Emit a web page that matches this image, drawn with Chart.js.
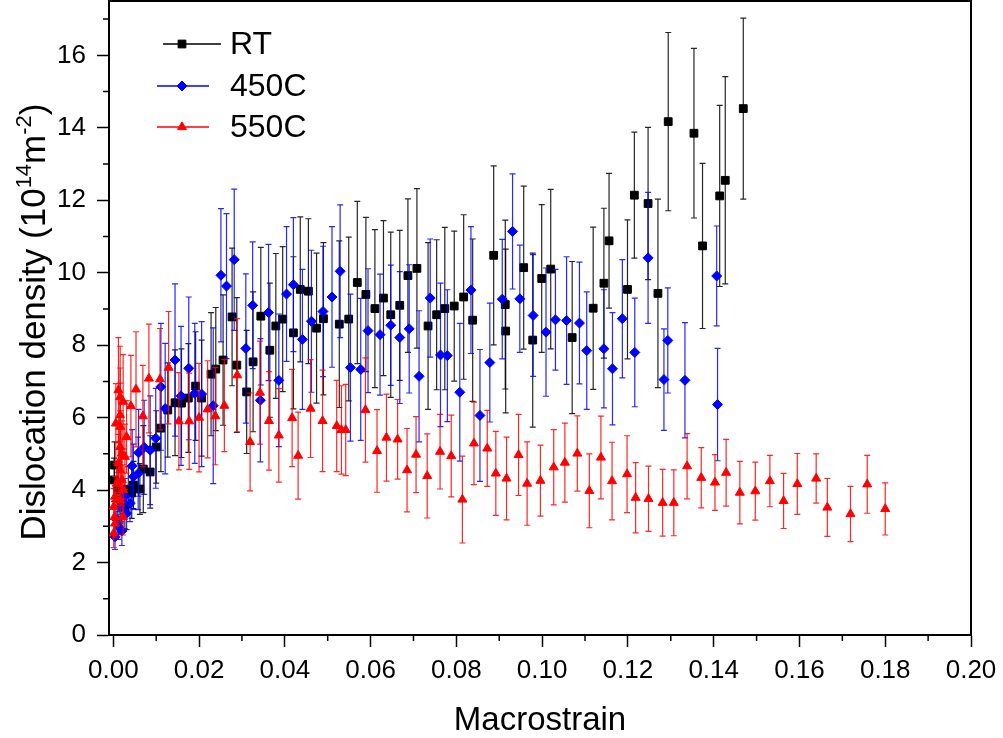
<!DOCTYPE html>
<html><head><meta charset="utf-8">
<script src="https://cdn.jsdelivr.net/npm/chart.js@4.4.1/dist/chart.umd.min.js"></script>
<style>html,body{margin:0;padding:0;background:#fff;}canvas{display:block;}</style>
</head><body>
<canvas id="c" width="1003" height="738"></canvas>
<script>
// ---------- tick labels ----------
const xTickValues = [0.00,0.02,0.04,0.06,0.08,0.10,0.12,0.14,0.16,0.18,0.20];
const xMinorTicks = [0.01,0.03,0.05,0.07,0.09,0.11,0.13,0.15,0.17,0.19];
const yTickValues = [0,2,4,6,8,10,12,14,16];
const yMinorTicks = [1,3,5,7,9,11,13,15,17];
const seriesNames = ['RT','450C','550C'];
const xTitle = 'Macrostrain';

// ---------- RT ----------
const rtStrain = [0.0002,0.0003,0.0011,0.0018,0.0027,0.0035,0.0043,0.0047,0.0062,0.0070,
 0.0086,0.0100,0.0111,0.0127,0.0144,0.0159,0.0175,0.0192,0.0206,0.0228,
 0.0239,0.0256,0.0277,0.0288,0.0311,0.0326,0.0344,0.0365,0.0379,0.0395,
 0.0420,0.0436,0.0455,0.0474,0.0490,0.0527,0.0549,0.0569,0.0589,0.0610,
 0.0630,0.0647,0.0668,0.0687,0.0708,0.0734,0.0754,0.0773,0.0795,0.0817,
 0.0838,0.0887,0.0914,0.0915,0.0957,0.0978,0.0999,0.1020,0.1070,0.1119,
 0.1144,0.1156,0.1199,0.1215,0.1247,0.1270,0.1294,0.1354,0.1374,0.1414,
 0.1427,0.1469];
const rtDensity = [4.28,4.69,4.00,3.72,3.53,4.00,3.92,4.14,4.03,4.58,
 4.50,5.19,5.71,6.21,6.41,6.40,6.54,6.87,6.54,7.20,
 7.34,7.59,8.78,7.45,6.71,7.54,8.80,7.86,8.53,8.72,
 8.34,9.54,9.49,8.47,8.73,8.58,8.72,9.73,9.40,9.01,
 9.30,8.84,9.10,9.92,10.12,8.53,8.84,9.01,9.08,9.33,
 8.69,10.48,9.12,8.39,10.14,8.14,9.84,10.10,8.21,9.02,
 9.71,10.88,9.54,12.14,11.91,9.43,14.17,13.85,10.74,12.12,
 12.55,14.53];
const rtError = [0.6,0.64,0.6,0.6,0.6,0.65,0.7,0.65,0.7,1.2,
 1.0,1.0,1.2,1.3,1.46,1.5,1.5,1.5,1.6,1.7,
 1.7,1.8,1.9,1.86,1.7,1.93,1.9,1.85,2.0,2.0,
 2.1,2.0,2.0,2.07,2.1,2.3,2.26,2.24,2.13,2.18,
 2.14,2.28,2.07,2.12,2.2,2.3,2.07,2.24,2.07,2.27,
 2.24,2.47,2.33,2.26,2.25,2.4,2.04,2.2,2.1,2.24,
 2.07,1.86,1.92,1.74,2.1,2.6,2.46,2.34,2.28,2.5,
 2.86,2.5];

// ---------- 450C ----------
const c450Strain = [0.0004,0.0009,0.0012,0.0016,0.0020,0.0027,0.0031,0.0039,0.0044,0.0047,
 0.0058,0.0059,0.0072,0.0086,0.0099,0.0111,0.0121,0.0144,0.0158,0.0176,
 0.0190,0.0206,0.0233,0.0251,0.0264,0.0282,0.0309,0.0325,0.0343,0.0362,
 0.0386,0.0404,0.0420,0.0441,0.0462,0.0489,0.0510,0.0529,0.0553,0.0577,
 0.0594,0.0622,0.0647,0.0668,0.0690,0.0713,0.0739,0.0763,0.0779,0.0808,
 0.0834,0.0855,0.0878,0.0907,0.0931,0.0948,0.0979,0.1009,0.1031,0.1057,
 0.1087,0.1104,0.1144,0.1164,0.1187,0.1216,0.1247,0.1284,0.1293,0.1333,
 0.1407,0.1409];
const c450Density = [2.71,3.17,2.99,3.54,2.87,3.82,3.36,3.63,4.67,4.37,
 4.46,5.03,5.18,5.10,5.43,6.85,6.25,7.59,6.60,7.36,
 6.67,6.65,6.33,9.93,9.63,10.36,7.91,9.10,6.48,8.90,
 7.03,9.41,9.67,8.16,8.66,8.93,9.33,10.04,7.38,7.33,
 8.40,8.29,8.55,8.21,8.45,7.14,9.30,7.73,7.71,6.70,
 9.52,6.06,7.52,9.27,11.14,9.28,8.82,8.36,8.70,8.68,
 8.61,7.85,7.90,7.35,8.73,7.80,10.41,7.05,8.13,7.03,
 9.91,6.36];
const c450Error = [0.35,0.4,0.35,0.45,0.4,0.5,0.45,0.5,1.0,0.9,
 1.0,1.2,1.3,1.5,1.38,1.75,1.8,2.1,1.92,1.97,
 1.93,2.0,2.15,1.84,2.0,1.95,2.06,1.75,1.7,1.88,
 1.83,1.86,1.85,1.93,1.96,1.8,1.94,1.83,2.03,1.96,
 1.71,1.67,1.66,1.82,1.77,1.81,1.63,1.98,1.82,1.9,
 1.75,1.82,1.64,1.65,1.59,1.48,1.68,1.77,1.39,1.76,
 1.68,1.62,1.63,1.55,1.63,1.5,1.81,1.4,1.45,1.59,
 1.38,1.55];

// ---------- 550C ----------
const c550Strain = [0.0001,0.0003,0.0001,0.0004,0.0004,0.0008,0.0012,0.0006,0.0012,0.0016,
 0.0016,0.0016,0.0016,0.0016,0.0016,0.0020,0.0020,0.0023,0.0023,0.0023,
 0.0027,0.0031,0.0041,0.0053,0.0069,0.0083,0.0109,0.0129,0.0153,0.0177,
 0.0200,0.0220,0.0238,0.0259,0.0289,0.0319,0.0342,0.0363,0.0386,0.0417,
 0.0431,0.0460,0.0488,0.0521,0.0532,0.0542,0.0588,0.0615,0.0637,0.0663,
 0.0685,0.0706,0.0732,0.0762,0.0788,0.0814,0.0841,0.0872,0.0892,0.0917,
 0.0945,0.0965,0.0996,0.1027,0.1053,0.1082,0.1110,0.1137,0.1163,0.1198,
 0.1218,0.1248,0.1281,0.1307,0.1338,0.1371,0.1403,0.1429,0.1461,0.1497,
 0.1531,0.1563,0.1595,0.1639,0.1665,0.1719,0.1758,0.1800];
const c550Density = [2.81,3.26,3.54,3.08,3.82,4.18,4.74,5.84,6.76,6.57,
 6.07,5.75,5.19,4.55,3.72,5.01,4.28,6.44,4.00,3.26,
 4.92,5.47,6.32,6.78,6.04,7.08,7.06,7.38,5.90,5.90,
 6.00,6.23,6.04,6.33,7.17,5.33,6.69,5.91,5.51,5.99,
 4.95,6.25,5.91,5.77,5.66,5.66,6.21,5.08,5.45,5.40,
 4.55,4.98,4.39,5.06,4.94,3.74,5.29,5.15,4.46,4.32,
 4.97,4.18,4.26,4.63,4.76,5.01,3.98,4.90,4.25,4.44,
 3.79,3.76,3.65,3.65,4.66,4.34,4.21,4.48,3.93,3.97,
 4.25,3.70,4.17,4.32,3.52,3.34,4.16,3.48];
const c550Error = [0.4,0.45,0.5,0.4,0.55,0.6,0.8,1.1,1.45,1.4,
 1.3,1.2,1.0,0.8,0.6,0.9,0.7,1.3,0.7,0.5,
 0.9,1.0,1.4,1.59,1.4,1.5,1.4,1.55,1.34,1.33,
 1.5,1.34,1.34,1.27,1.56,1.35,1.42,1.36,1.29,1.34,
 1.2,1.35,1.4,1.26,1.22,1.26,1.44,1.14,1.2,1.1,
 1.15,1.05,1.16,1.03,1.13,1.2,1.14,1.05,1.16,1.14,
 1.12,1.15,0.98,1.04,1.09,1.04,1.02,1.14,1.07,1.06,
 0.97,0.9,0.92,0.91,0.9,0.83,0.77,0.92,0.86,0.8,
 0.71,0.76,0.84,0.68,0.8,0.76,0.8,0.72];

const FONT = '"Liberation Sans", Arial, Helvetica, sans-serif';

function pts(xs, ys){ return xs.map((x,i)=>({x:x, y:ys[i]})); }

const series = [
  {name: seriesNames[0], xs: rtStrain, ys: rtDensity, err: rtError, color:'#000000', errColor:'rgba(0,0,0,0.85)', style:'rect', r:5.5, order:3},
  {name: seriesNames[1], xs: c450Strain, ys: c450Density, err: c450Error, color:'#0000ff', errColor:'rgba(0,0,255,0.85)', style:'rectRot', r:5, order:2},
  {name: seriesNames[2], xs: c550Strain, ys: c550Density, err: c550Error, color:'#ff0000', errColor:'rgba(255,0,0,0.85)', style:'triangle', r:5.2, order:1}
];

// force the plot area to the reference frame
const PLOT_TOP = 1;
const areaPlugin = {
  id:'areaFix',
  afterLayout(chart){
    const ca = chart.chartArea;
    if (ca.top !== PLOT_TOP) {
      ca.top = PLOT_TOP;
      ca.height = ca.bottom - ca.top;
      const ys = chart.scales.y;
      ys.top = PLOT_TOP;
      ys.height = ys.bottom - ys.top;
      ys.configure();
      ys._labelItems = null;
    }
  }
};

const errorBarPlugin = {
  id:'errorBars',
  beforeDatasetDraw(chart, args){
    const ds = chart.data.datasets[args.index];
    const meta = args.meta;
    const ys = chart.scales.y;
    const ctx = chart.ctx;
    const ca = chart.chartArea;
    ctx.save();
    ctx.beginPath();
    ctx.rect(ca.left, ca.top, ca.right-ca.left, ca.bottom-ca.top);
    ctx.clip();
    ctx.strokeStyle = ds.errColor;
    ctx.lineWidth = 1.2;
    meta.data.forEach((el,i)=>{
      const v = ds.data[i].y, e = ds.errValues[i];
      const x = el.x;
      const yt = ys.getPixelForValue(v+e), yb = ys.getPixelForValue(v-e);
      ctx.beginPath();
      ctx.moveTo(x, yt); ctx.lineTo(x, yb);
      ctx.moveTo(x-3, yt); ctx.lineTo(x+3, yt);
      ctx.moveTo(x-3, yb); ctx.lineTo(x+3, yb);
      ctx.stroke();
    });
    ctx.restore();
  }
};

function marker(ctx, style, x, y, r, color){
  ctx.save();
  ctx.fillStyle = color; ctx.strokeStyle = color; ctx.lineWidth = 1;
  ctx.beginPath();
  if (style==='rect'){ const s=Math.SQRT1_2*r; ctx.rect(x-s,y-s,2*s,2*s); }
  else if (style==='rectRot'){ ctx.moveTo(x-r,y); ctx.lineTo(x,y-r); ctx.lineTo(x+r,y); ctx.lineTo(x,y+r); ctx.closePath(); }
  else { ctx.moveTo(x, y-r); ctx.lineTo(x+Math.sin(2*Math.PI/3)*r, y+r/2); ctx.lineTo(x-Math.sin(2*Math.PI/3)*r, y+r/2); ctx.closePath(); }
  ctx.fill(); ctx.stroke();
  ctx.restore();
}

const decorPlugin = {
  id:'decor',
  afterDraw(chart){
    const ctx = chart.ctx, ca = chart.chartArea;
    const xs = chart.scales.x, ys = chart.scales.y;
    ctx.save();
    // frame top/right
    ctx.strokeStyle = '#000'; ctx.lineWidth = 2;
    ctx.beginPath();
    ctx.moveTo(ca.left-1, ca.top); ctx.lineTo(ca.right, ca.top); ctx.lineTo(ca.right, ca.bottom+1);
    ctx.stroke();
    // minor ticks
    ctx.lineWidth = 1.5;
    ctx.beginPath();
    xMinorTicks.forEach(v=>{ const p = xs.getPixelForValue(v); ctx.moveTo(p, ca.bottom); ctx.lineTo(p, ca.bottom+6); });
    yMinorTicks.forEach(v=>{ const p = ys.getPixelForValue(v); ctx.moveTo(ca.left, p); ctx.lineTo(ca.left-6, p); });
    ctx.stroke();
    // x title
    ctx.fillStyle = '#000';
    ctx.font = '33px ' + FONT;
    ctx.textAlign = 'center'; ctx.textBaseline = 'alphabetic';
    ctx.fillText(xTitle, (ca.left+ca.right)/2, 730);
    // y title with superscripts
    const parts = [['Dislocation density (10',0],['14',1],['m',0],['-2',1],[')',0]];
    const big = 35, small = 22;
    ctx.translate(45, 322);
    ctx.rotate(-Math.PI/2);
    ctx.textAlign = 'left';
    let total = 0;
    parts.forEach(p=>{ ctx.font = (p[1]?small:big)+'px '+FONT; total += ctx.measureText(p[0]).width; });
    let cx = -total/2;
    parts.forEach(p=>{ ctx.font = (p[1]?small:big)+'px '+FONT; ctx.fillText(p[0], cx, p[1]?-14:0); cx += ctx.measureText(p[0]).width; });
    ctx.restore();
    // legend
    const leg = [
      {y:44, x1:163, x2:221},
      {y:86, x1:157, x2:209},
      {y:127, x1:157, x2:209}
    ];
    ctx.save();
    series.forEach((s,i)=>{
      const L = leg[i];
      ctx.strokeStyle = s.color; ctx.lineWidth = 1.5;
      ctx.beginPath(); ctx.moveTo(L.x1, L.y); ctx.lineTo(L.x2, L.y); ctx.stroke();
      marker(ctx, s.style, 182, L.y, s.r, s.color);
      ctx.fillStyle = '#000';
      ctx.font = '32px ' + FONT;
      ctx.textAlign = 'left'; ctx.textBaseline = 'middle';
      ctx.fillText(s.name, 230, L.y+1);
    });
    ctx.restore();
  }
};

const datasets = series.map(s=>({
  label: s.name,
  data: pts(s.xs, s.ys),
  errValues: s.err,
  errColor: s.errColor,
  showLine: false,
  pointStyle: s.style,
  pointRadius: s.r,
  pointHoverRadius: s.r,
  pointBackgroundColor: s.color,
  pointBorderColor: s.color,
  pointBorderWidth: 1,
  borderColor: s.color,
  backgroundColor: s.color,
  order: s.order
}));

new Chart(document.getElementById('c'), {
  type: 'scatter',
  data: { datasets },
  options: {
    responsive: false,
    animation: false,
    devicePixelRatio: 1,
    layout: { padding: { top: 1, right: 32, left: 0, bottom: 0 } },
    plugins: { legend: { display: false }, tooltip: { enabled: false } },
    scales: {
      x: {
        type: 'linear', position: 'bottom', min: -0.001, max: 0.2,
        afterBuildTicks: sc => { sc.ticks = xTickValues.map(v=>({value:v})); },
        afterFit: sc => { sc.height = 103; sc.paddingLeft = 0; sc.paddingRight = 0; },
        ticks: { autoSkip:false, maxRotation:0, padding: 8, color:'#000',
          font: { size: 26, family: FONT }, callback: v => Number(v).toFixed(2) },
        grid: { drawOnChartArea:false, drawTicks:true, tickLength:12, tickColor:'#000', tickWidth:1.5 },
        border: { display:true, color:'#000', width:2 }
      },
      y: {
        type: 'linear', position: 'left', min: 0, max: 17.5,
        afterBuildTicks: sc => { sc.ticks = yTickValues.map(v=>({value:v})); },
        afterFit: sc => { sc.width = 109; sc.paddingTop = 0; sc.paddingBottom = 0; },
        ticks: { autoSkip:false, padding: 11, color:'#000',
          font: { size: 26, family: FONT }, callback: v => String(v) },
        grid: { drawOnChartArea:false, drawTicks:true, tickLength:12, tickColor:'#000', tickWidth:1.5 },
        border: { display:true, color:'#000', width:2 }
      }
    }
  },
  plugins: [areaPlugin, errorBarPlugin, decorPlugin]
});
</script>
</body></html>
